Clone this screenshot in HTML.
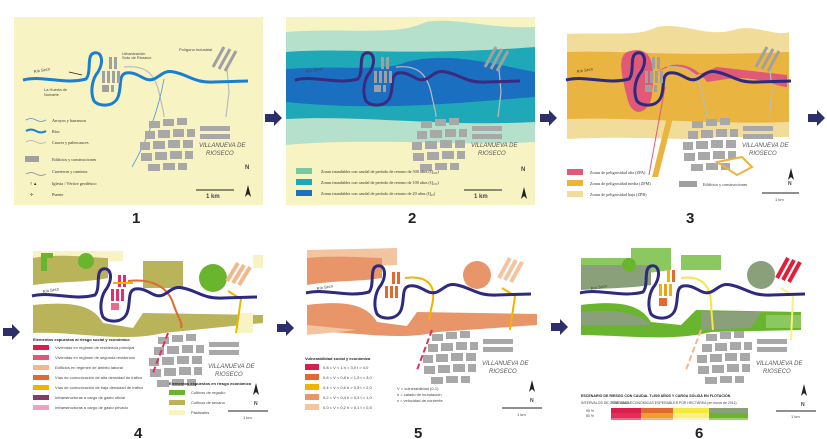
<!DOCTYPE html>
<html><head><meta charset="utf-8"><style>
html,body{margin:0;padding:0;background:#fff;width:827px;height:439px;overflow:hidden}
svg{display:block;font-family:"Liberation Sans",sans-serif}
.t{font-size:4px;fill:#444}
.ts{font-family:"Liberation Serif",serif;font-size:4.2px;fill:#333}
.num{font-size:15px;font-weight:bold;fill:#222}
.vil{font-size:6px;font-style:italic;fill:#555}
</style></head><body>
<svg width="827" height="439" viewBox="0 0 827 439">
<defs>
<path id="rv" fill="none" d="M9,63 C30,58 50,68 72,62 C78,55 72,38 80,36 C88,34 90,45 84,55 C78,62 76,75 80,84 C85,90 100,90 104,80 C108,70 104,58 112,56 C125,54 130,66 140,62 C148,58 150,53 160,55 C175,58 180,66 200,65 L234,64"/>
<g id="town" fill="#a8a8a8">
<rect x="135" y="104" width="11" height="7"/><rect x="149" y="102" width="11" height="7"/><rect x="163" y="101" width="10" height="7"/>
<rect x="131" y="114" width="10" height="8"/><rect x="144" y="113" width="12" height="8"/><rect x="159" y="112" width="11" height="8"/><rect x="173" y="112" width="8" height="8"/>
<rect x="126" y="125" width="10" height="8"/><rect x="139" y="124" width="12" height="8"/><rect x="154" y="123" width="12" height="8"/><rect x="169" y="123" width="10" height="8"/>
<rect x="127" y="136" width="11" height="8"/><rect x="141" y="135" width="12" height="8"/><rect x="156" y="134" width="12" height="8"/><rect x="171" y="134" width="8" height="8"/>
<rect x="134" y="147" width="12" height="7"/><rect x="149" y="146" width="12" height="7"/><rect x="164" y="146" width="9" height="7"/>
<rect x="186" y="109" width="30" height="5"/><rect x="186" y="117" width="30" height="5"/>
</g>
<g id="bld" fill="#a0a0a0">
<rect x="95" y="40" width="3" height="12"/><rect x="100" y="40" width="3" height="12"/>
<rect x="88" y="54" width="3" height="12"/><rect x="93" y="54" width="3" height="12"/><rect x="98" y="54" width="3" height="12"/><rect x="103" y="54" width="3" height="12"/>
<rect x="88" y="68" width="7" height="7"/><rect x="97" y="68" width="3" height="7"/>
</g>
<g id="bars"><path d="M200,28 L188,48 M206,30 L194,50 M212,32 L200,52" stroke-width="4" fill="none"/></g>
<g id="road" fill="none" stroke="#bbb" stroke-width="1.2"><path d="M110,50 C130,48 140,55 145,75 C148,90 150,95 150,100"/><path d="M213,52 L215,75 L212,100"/></g>
<g id="narrow"><path d="M0,0 L3,-12 L6,0 L3,-3 Z" fill="#222"/></g>
<g id="arr"><path d="M0,-4 L9,-4 L9,-8 L17,0 L9,8 L9,4 L0,4 Z" fill="#2d2f6b"/></g>
</defs>

<!-- arrows -->
<use href="#arr" x="265" y="118"/><use href="#arr" x="540" y="118"/><use href="#arr" x="808" y="118"/>
<use href="#arr" x="3" y="332"/><use href="#arr" x="277" y="328"/><use href="#arr" x="551" y="327"/>
<text class="num" x="132" y="223">1</text><text class="num" x="408" y="223">2</text><text class="num" x="686" y="223">3</text>
<text class="num" x="134" y="438">4</text><text class="num" x="414" y="438">5</text><text class="num" x="695" y="438">6</text>

<!-- PANEL 1 -->
<g transform="translate(14,17)">
<rect width="249" height="188" fill="#f8f3c3"/>
<use href="#road"/>
<path d="M150,62 C145,90 135,120 118,150" stroke="#4a9ad8" stroke-width="0.8" fill="none"/>
<use href="#rv" stroke="#1a7fd0" stroke-width="3"/>
<use href="#bld"/><use href="#town"/>
<g fill="#a0a0a0"><path d="M210,30 L199,50 M216,32 L205,52 M222,34 L211,54" stroke="#a0a0a0" stroke-width="3"/></g>
<path d="M55,55 L68,58" stroke="#222" stroke-width="0.8"/>
<text class="t" x="20" y="56" transform="rotate(-10 20 56)">Río Seco</text>
<text class="t" x="30" y="74">La Huerta de</text><text class="t" x="30" y="79">Nolvarte</text>
<text class="t" x="108" y="38">Urbanización</text><text class="t" x="108" y="42">Soto de Rioseco</text>
<text class="t" x="165" y="34">Polígono Industrial</text>
<path d="M12,103 q5,-3 10,0 t10,0" stroke="#4a9ad8" fill="none" stroke-width="0.8"/><text class="ts" x="38" y="105">Arroyos y barrancos</text>
<path d="M12,114 q5,-3 10,0 t10,0" stroke="#1a7fd0" fill="none" stroke-width="2"/><text class="ts" x="38" y="116">Ríos</text>
<path d="M12,125 q5,-3 10,0 t10,0" stroke="#bbb" fill="none" stroke-width="1"/><text class="ts" x="38" y="127">Cauces y paleocauces</text>
<rect x="11" y="139" width="14" height="6" fill="#a0a0a0"/><text class="ts" x="38" y="144">Edificios y construcciones</text>
<path d="M12,157 q5,-3 10,0 t10,0" stroke="#999" fill="none"/><text class="ts" x="38" y="156">Carreteras y caminos</text>
<text class="ts" x="16" y="168">†  ▲</text><text class="ts" x="38" y="168">Iglesia / Vértice geodésico</text>
<text class="ts" x="16" y="179">✢</text><text class="ts" x="38" y="179">Puente</text>
<text class="vil" x="185" y="130">VILLANUEVA DE</text><text class="vil" x="192" y="138">RIOSECO</text>
<use href="#narrow" x="231" y="180"/><text class="t" x="231" y="152" style="font-size:6px;font-weight:bold">N</text>
<path d="M182,173 L220,173" stroke="#222"/><text class="t" x="192" y="181" style="font-size:6px;font-weight:bold">1 km</text>
</g>

<!-- PANEL 2 -->
<g transform="translate(286,17)">
<rect width="249" height="188" fill="#f8f3c3"/>
<path d="M0,15 C60,10 110,20 140,5 C170,0 200,12 249,10 L249,125 C180,130 90,120 0,128 Z" fill="#b4e0cc"/>
<path d="M0,35 C60,30 120,40 249,30 L249,105 C160,110 80,98 0,102 Z" fill="#1fa8b8"/>
<path d="M0,52 C60,48 100,55 120,45 C160,35 200,45 249,55 L249,80 C180,85 100,95 0,85 Z" fill="#1a6fc0"/>
<use href="#road"/>
<use href="#rv" stroke="#3a2a80" stroke-width="3"/>
<use href="#bld"/><use href="#town" fill="#aaa"/>
<g stroke="#a0a0a0" stroke-width="3"><path d="M210,30 L199,50 M216,32 L205,52 M222,34 L211,54"/></g>
<text class="t" x="20" y="56" transform="rotate(-10 20 56)">Río Seco</text>
<rect x="10" y="151" width="16" height="6" fill="#7ac8a0"/><text class="ts" x="35" y="156">Zonas inundables con caudal de período de retorno de 500 años (Q₅₀₀)</text>
<rect x="10" y="162" width="16" height="6" fill="#1fa8b8"/><text class="ts" x="35" y="167">Zonas inundables con caudal de período de retorno de 100 años (Q₁₀₀)</text>
<rect x="10" y="173" width="16" height="6" fill="#1a6fc0"/><text class="ts" x="35" y="178">Zonas inundables con caudal de período de retorno de 20 años (Q₂₀)</text>
<text class="vil" x="185" y="130">VILLANUEVA DE</text><text class="vil" x="192" y="138">RIOSECO</text>
<use href="#narrow" x="235" y="182"/><text class="t" x="235" y="154" style="font-size:6px;font-weight:bold">N</text>
<path d="M178,173 L216,173" stroke="#222"/><text class="t" x="188" y="181" style="font-size:6px;font-weight:bold">1 km</text>
</g>

<!-- PANEL 3 -->
<g transform="translate(557,17)">
<rect width="249" height="188" fill="#fff"/>
<path d="M10,17 C60,15 80,20 100,10 C130,5 150,22 180,12 C200,8 220,20 232,15 L232,120 L160,120 C130,125 80,118 10,122 Z" fill="#f2dc9a"/>
<path d="M10,35 C60,33 120,40 232,35 L232,105 C160,108 80,100 10,102 Z" fill="#e9b440"/>
<path d="M70,35 C90,28 100,40 95,75 C95,95 75,105 70,80 C65,60 60,40 70,35 Z M100,55 C120,40 140,50 150,65 L170,62 C200,58 220,70 230,70 L230,58 L160,50 L140,58 C120,45 110,50 100,55 Z" fill="#e05a78"/>
<path d="M115,80 L95,160 L101,160 L120,85 Z" fill="#e9b440"/>
<path d="M108,70 L92,158" stroke="#e05a78" stroke-width="1" fill="none"/>
<use href="#road"/>
<use href="#rv" stroke="#2d2a80" stroke-width="3"/>
<use href="#bld"/><use href="#town"/>
<path d="M160,145 L185,140 L195,150 L180,158 Z" fill="none" stroke="#e9b440" stroke-width="2"/>
<g stroke="#a0a0a0" stroke-width="3"><path d="M210,30 L199,50 M216,32 L205,52 M222,34 L211,54"/></g>
<text class="t" x="20" y="56" transform="rotate(-10 20 56)">Río Seco</text>
<rect x="10" y="152" width="16" height="6" fill="#e05a78"/><text class="ts" x="33" y="157">Zonas de peligrosidad alta (ZPA)</text>
<rect x="10" y="163" width="16" height="6" fill="#e9b440"/><text class="ts" x="33" y="168">Zonas de peligrosidad media (ZPM)</text>
<rect x="10" y="174" width="16" height="6" fill="#f2dc9a"/><text class="ts" x="33" y="179">Zonas de peligrosidad baja (ZPB)</text>
<rect x="122" y="164" width="18" height="6" fill="#a0a0a0"/><text class="ts" x="146" y="169">Edificios y construcciones</text>
<text class="vil" x="185" y="130">VILLANUEVA DE</text><text class="vil" x="192" y="138">RIOSECO</text>
<use href="#narrow" x="231" y="163"/><text class="t" x="231" y="168" style="font-size:5px;font-weight:bold">N</text>
<path d="M205,176 L242,176" stroke="#222"/><text class="t" x="218" y="184">1 km</text>
</g>

<!-- PANEL 4 -->
<g transform="translate(23,233)">
<rect width="249" height="189" fill="#fff"/>
<path d="M10,18 L100,18 L100,28 L10,30 Z M230,22 L240,22 L240,35 L230,35Z" fill="#f8f3c3"/>
<path d="M10,25 C40,20 70,25 85,25 L85,45 C60,50 40,48 10,52 Z M120,28 L160,28 L160,55 L120,55 Z" fill="#b9b35a"/>
<path d="M10,72 C50,68 70,72 80,90 L110,95 L120,80 L240,82 L240,90 L140,100 C100,110 50,98 10,100 Z" fill="#b9b35a"/>
<path d="M215,80 L230,80 L230,100 L215,100 Z" fill="#f8f3c3"/>
<path d="M18,20 L30,20 L30,25 L24,25 L24,38 L18,38 Z" fill="#6ab52e"/>
<circle cx="63" cy="28" r="8" fill="#6ab52e"/><circle cx="190" cy="45" r="14" fill="#6ab52e"/>
<g stroke="#f2b88c" stroke-width="4"><path d="M215,30 L204,48 M221,32 L210,50 M227,34 L216,52"/></g>
<path d="M105,48 C130,45 145,55 150,70 C155,85 160,90 158,95" stroke="#e06a30" stroke-width="2" fill="none"/>
<path d="M205,58 L218,66 L213,100" stroke="#f0b400" stroke-width="2" fill="none"/>
<use href="#rv" stroke="#2d2a80" stroke-width="3"/>
<g fill="#e0306a"><rect x="95" y="42" width="3" height="12"/><rect x="100" y="42" width="3" height="12"/><rect x="88" y="56" width="3" height="12"/><rect x="93" y="56" width="3" height="12"/><rect x="98" y="56" width="3" height="12"/><rect x="88" y="70" width="8" height="7" fill="#e86a8c"/></g>
<path d="M90,50 L110,50" stroke="#f0b400" stroke-width="2"/>
<use href="#town"/>
<path d="M145,100 L130,140" stroke="#e0305a" stroke-width="2" stroke-dasharray="6 3"/>
<text class="t" x="20" y="60" transform="rotate(-10 20 60)">Río Seco</text>
<text class="t" x="10" y="108" style="font-weight:bold;fill:#222">Elementos expuestos al riesgo social y económico</text>
<g class="t"><rect x="10" y="112" width="16" height="5" fill="#d81e4a"/><text x="32" y="116">Viviendas en régimen de residencia principal</text>
<rect x="10" y="122" width="16" height="5" fill="#e05a78"/><text x="32" y="126">Viviendas en régimen de segunda residencia</text>
<rect x="10" y="132" width="16" height="5" fill="#f2b88c"/><text x="32" y="136">Edificios en régimen de ámbito laboral</text>
<rect x="10" y="142" width="16" height="5" fill="#e06a30"/><text x="32" y="146">Vías de comunicación de alta densidad de tráfico</text>
<rect x="10" y="152" width="16" height="5" fill="#f0b400"/><text x="32" y="156">Vías de comunicación de baja densidad de tráfico</text>
<rect x="10" y="162" width="16" height="5" fill="#8a3a6a"/><text x="32" y="166">Infraestructuras a cargo de gasto oficial</text>
<rect x="10" y="172" width="16" height="5" fill="#f0a0c0"/><text x="32" y="176">Infraestructuras a cargo de gasto privado</text>
<text x="146" y="152" style="font-weight:bold;fill:#222">Elementos expuestos en riesgo económico</text>
<rect x="146" y="157" width="16" height="5" fill="#6ab52e"/><text x="168" y="161">Cultivos de regadío</text>
<rect x="146" y="167" width="16" height="5" fill="#b9b35a"/><text x="168" y="171">Cultivos de secano</text>
<rect x="146" y="177" width="16" height="5" fill="#f8f3c3"/><text x="168" y="181">Pastizales</text></g>
<text class="vil" x="185" y="135">VILLANUEVA DE</text><text class="vil" x="192" y="143">RIOSECO</text>
<use href="#narrow" x="230" y="162"/><text class="t" x="231" y="172" style="font-size:5px;font-weight:bold">N</text>
<path d="M205,178 L245,178" stroke="#222"/><text class="t" x="220" y="186">1 km</text>
</g>

<!-- PANEL 5 -->
<g transform="translate(297,230)">
<rect width="249" height="188" fill="#fff"/>
<path d="M10,20 L100,18 L100,35 L10,38 Z" fill="#f2c4a0"/>
<path d="M10,28 C40,25 70,28 85,28 L85,48 C60,52 40,50 10,55 Z" fill="#e8956a"/>
<path d="M10,75 C50,70 70,75 80,92 L110,96 L120,82 L240,84 L240,95 L140,102 C100,112 50,100 10,102 Z" fill="#e8956a"/>
<path d="M10,95 L60,100 L10,105Z" fill="#f2c4a0"/>
<circle cx="180" cy="45" r="14" fill="#e8956a"/>
<g stroke="#f2c4a0" stroke-width="4"><path d="M213,28 L202,48 M219,30 L208,50 M225,32 L214,52"/></g>
<path d="M108,48 C130,45 140,55 135,75 L132,90" stroke="#f0b400" stroke-width="2" fill="none"/>
<path d="M205,58 L218,66 L213,100" stroke="#f0b400" stroke-width="2" fill="none"/>
<use href="#rv" stroke="#2d2a80" stroke-width="3"/>
<g fill="#e06a30"><rect x="95" y="42" width="3" height="12"/><rect x="100" y="42" width="3" height="12"/><rect x="88" y="56" width="3" height="12"/><rect x="93" y="56" width="3" height="12"/><rect x="98" y="56" width="3" height="12"/></g>
<use href="#town"/>
<path d="M135,100 L120,140" stroke="#e0305a" stroke-width="2" stroke-dasharray="6 3"/>
<text class="t" x="20" y="60" transform="rotate(-10 20 60)">Río Seco</text>
<g class="t"><text x="8" y="130" style="font-weight:bold;fill:#222">Vulnerabilidad       social     y      económica</text>
<rect x="8" y="134" width="14" height="6" fill="#d81e4a"/><text x="26" y="139">0,8 &lt; V &lt; 1   h &gt; 3,0   t &gt; 4,0</text>
<rect x="8" y="144" width="14" height="6" fill="#e06a30"/><text x="26" y="149">0,6 &lt; V &lt; 0,8   h &gt; 1,0   t &gt; 3,0</text>
<rect x="8" y="154" width="14" height="6" fill="#f0b400"/><text x="26" y="159">0,4 &lt; V &lt; 0,6   h &gt; 0,5   t &gt; 2,0</text>
<rect x="8" y="164" width="14" height="6" fill="#e8956a"/><text x="26" y="169">0,2 &lt; V &lt; 0,4   h &gt; 0,3   t &gt; 1,0</text>
<rect x="8" y="174" width="14" height="6" fill="#f2c4a0"/><text x="26" y="179">0,0 &lt; V &lt; 0,2   h &gt; 0,1   t &gt; 0,5</text>
<text x="100" y="160">V = vulnerabilidad (0-1)</text><text x="100" y="166">h = calado de inundación</text><text x="100" y="172">v = velocidad de corriente</text></g>
<text class="vil" x="185" y="135">VILLANUEVA DE</text><text class="vil" x="192" y="143">RIOSECO</text>
<use href="#narrow" x="232" y="162"/><text class="t" x="233" y="172" style="font-size:5px;font-weight:bold">N</text>
<path d="M205,178 L245,178" stroke="#222"/><text class="t" x="220" y="186">1 km</text>
</g>

<!-- PANEL 6 -->
<g transform="translate(571,230)">
<rect width="249" height="190" fill="#fff"/>
<path d="M10,28 L60,28 L60,18 L100,18 L100,40 C60,45 40,48 10,52 Z M110,25 L150,25 L150,40 L110,40 Z" fill="#8bc860"/>
<path d="M10,35 L80,35 L80,55 C60,58 40,58 10,60 Z" fill="#8aa07a"/>
<path d="M10,75 C50,70 70,75 80,92 L110,95 L125,80 L230,82 L230,100 L140,102 C100,112 50,105 10,105 Z" fill="#6ab52e"/>
<path d="M10,82 C50,78 70,85 80,95 L10,95Z M130,82 L190,82 L180,98 L130,100Z" fill="#8aa07a"/>
<path d="M195,85 L230,85 L230,98 L195,98 Z" fill="#8bc860"/>
<circle cx="58" cy="35" r="7" fill="#6ab52e"/>
<circle cx="190" cy="45" r="14" fill="#8aa07a"/>
<g stroke="#e0203a" stroke-width="4"><path d="M217,28 L206,48 M223,30 L212,50 M229,32 L218,52"/></g>
<path d="M110,48 C130,45 140,55 140,75 L142,100" stroke="#f5e840" stroke-width="2" fill="none"/>
<path d="M210,58 L222,66 L220,110" stroke="#f8f080" stroke-width="2" fill="none"/>
<use href="#rv" stroke="#2d2a80" stroke-width="3"/>
<g><rect x="96" y="40" width="3" height="12" fill="#f0b400"/><rect x="101" y="40" width="3" height="12" fill="#e06a30"/><rect x="88" y="54" width="3" height="12" fill="#f0b400"/><rect x="93" y="54" width="3" height="12" fill="#e8a020"/><rect x="98" y="54" width="3" height="12" fill="#f0b400"/><rect x="88" y="68" width="8" height="8" fill="#e06a30"/></g>
<use href="#town"/>
<path d="M130,100 L115,140" stroke="#f2b88c" stroke-width="2" stroke-dasharray="6 3"/>
<text class="t" x="20" y="60" transform="rotate(-10 20 60)">Río Seco</text>
<text class="t" x="10" y="167" style="font-weight:bold;fill:#222;font-size:3.6px">ESCENARIO DE RIESGO CON CAUDAL T=500 AÑOS Y CARGA SÓLIDA EN FLOTACIÓN</text>
<text class="t" x="10" y="174" style="font-size:3.5px">INTERVALOS DE CONFIANZA</text>
<text class="t" x="40" y="174" style="font-size:3.5px">PÉRDIDAS ECONÓMICAS ESPERABLES POR HECTÁREA (en euros de 2011)</text>
<rect x="40" y="178" width="30" height="5" fill="#d81e4a"/><rect x="70" y="178" width="32" height="5" fill="#e06a30"/><rect x="102" y="178" width="36" height="5" fill="#f5e840"/><rect x="138" y="178" width="39" height="5" fill="#8aa07a"/>
<rect x="40" y="183" width="30" height="5" fill="#e0305a"/><rect x="70" y="183" width="32" height="5" fill="#f0a030"/><rect x="102" y="183" width="36" height="5" fill="#f8f080"/><rect x="138" y="183" width="39" height="5" fill="#6ab52e"/>
<rect x="40" y="188" width="30" height="2" fill="#e86a8c"/><rect x="70" y="188" width="32" height="2" fill="#f2b88c"/><rect x="102" y="188" width="36" height="2" fill="#fbf6c0"/><rect x="138" y="188" width="39" height="2" fill="#a0d070"/>
<text class="t" x="15" y="182" style="font-size:3.5px">95 %</text><text class="t" x="15" y="187" style="font-size:3.5px">50 %</text>
<text class="vil" x="185" y="135">VILLANUEVA DE</text><text class="vil" x="192" y="143">RIOSECO</text>
<use href="#narrow" x="230" y="166"/><text class="t" x="230" y="176" style="font-size:5px;font-weight:bold">N</text>
<path d="M205,181 L245,181" stroke="#222"/><text class="t" x="220" y="188">1 km</text>
</g>
</svg>
</body></html>
